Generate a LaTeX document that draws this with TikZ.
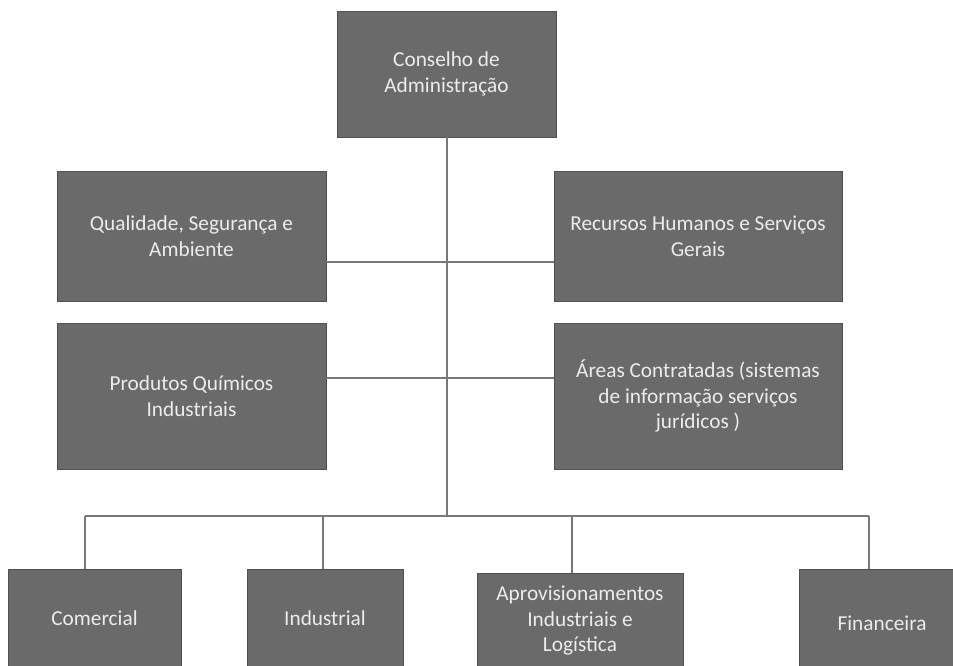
\documentclass[tikz,border=0pt]{standalone}
\usepackage{fontspec}
\setmainfont{Carlito}
\definecolor{boxfill}{RGB}{106,106,106}
\definecolor{boxedge}{RGB}{80,80,80}
\definecolor{boxtext}{RGB}{236,236,236}
\definecolor{linecol}{RGB}{120,120,120}
\begin{document}
\begin{tikzpicture}[x=1pt,y=-1pt,
  box/.style={draw=boxedge, fill=boxfill, line width=0.8pt, text=boxtext, align=center,
    font=\fontsize{21.3}{25.5}\selectfont, inner sep=0pt, rectangle},
  link/.style={draw=linecol, line width=1.3pt}]
\useasboundingbox (0,0) rectangle (953,666);
\clip (0,0) rectangle (953,666);
\fill[white] (0,0) rectangle (953,666);

\node[box, minimum width=219pt, minimum height=126pt] (top) at (446.5,74) {Conselho de\\Administração};
\node[box, minimum width=269pt, minimum height=130pt] (qsa) at (191.5,236) {Qualidade, Segurança e\\Ambiente};
\node[box, minimum width=288pt, minimum height=130pt] (rh) at (698,236) {Recursos Humanos e Serviços\\Gerais};
\node[box, minimum width=269pt, minimum height=146pt] (pqi) at (191.5,396) {Produtos Químicos\\Industriais};
\node[box, minimum width=288pt, minimum height=146pt] (ac) at (698,396) {Áreas Contratadas (sistemas\\de informação serviços\\jurídicos )};
\node[box, minimum width=173pt, minimum height=99pt] (com) at (94.5,618.5) {Comercial};
\node[box, minimum width=156pt, minimum height=99pt] (ind) at (325,618.5) {Industrial};
\node[box, minimum width=206pt, minimum height=95pt] (apr) at (580,620.5) {Aprovisionamentos\\Industriais e\\Logística};
\node[box, minimum width=166pt, minimum height=108pt] (fin) at (882,623) {Financeira};

\coordinate (hub) at (447,516);
\coordinate (jq) at (qsa.east |- 0,262);
\coordinate (jr) at (rh.west |- 0,262);
\coordinate (jp) at (pqi.east |- 0,378);
\coordinate (ja) at (ac.west |- 0,378);
\coordinate (bcom) at (85,516);
\coordinate (bind) at (323,516);
\coordinate (bapr) at (572,516);
\coordinate (bfin) at (869,516);

\draw[link] (top.south -| hub) -- (hub);
\draw[link] (jq) -- (jr);
\draw[link] (jp) -- (ja);
\draw[link] (bcom) -- (bfin);
\draw[link] (bcom) -- (bcom |- com.north);
\draw[link] (bind) -- (bind |- ind.north);
\draw[link] (bapr) -- (bapr |- apr.north);
\draw[link] (bfin) -- (bfin |- fin.north);
\end{tikzpicture}
\end{document}
